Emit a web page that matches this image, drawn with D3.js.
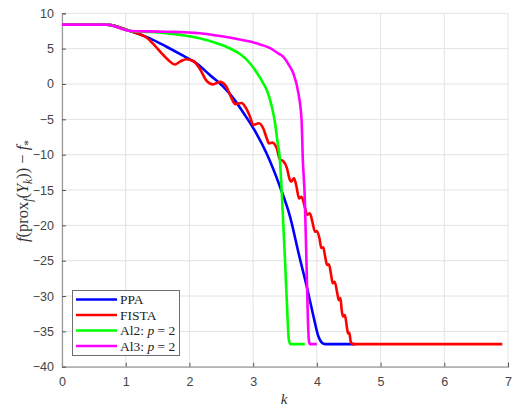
<!DOCTYPE html>
<html>
<head>
<meta charset="utf-8">
<script src="https://cdn.jsdelivr.net/npm/d3@7"></script>
<style>
  html, body { margin: 0; padding: 0; background: #fff; }
  svg { display: block; }
  .tick text { font-family: "Liberation Sans", Arial, sans-serif; font-size: 12.5px; fill: #444; }
</style>
</head>
<body>
<svg id="chart" width="517" height="407"></svg>
<script>
// Objective gap f(prox_f(Y_k)) - f_* versus k for the four methods.
const ppaK   = [0, 0.699, 1.07, 1.38, 1.64, 1.90, 2.11, 2.32, 2.53, 2.69, 2.90, 3.05, 3.21, 3.42, 3.58, 3.72, 3.85, 3.95, 4.02, 4.08, 4.13, 4.60];
const ppaF   = [8.4, 8.4, 7.5, 6.46, 5.27, 4.0, 2.93, 1.27, -0.38, -2.03, -4.8, -6.98, -9.8, -14.5, -18.8, -24.2, -29.0, -33.0, -35.6, -36.6, -36.8, -36.8];

const fistaK = [0, 0.699, 1.07, 1.2, 1.33, 1.45, 1.59, 1.68, 1.77, 1.86, 1.95, 2.06, 2.16, 2.27, 2.37, 2.48, 2.58, 2.66, 2.72, 2.82, 2.88, 2.95, 3.0, 3.09, 3.16, 3.21, 3.25, 3.30, 3.37, 3.42, 3.47, 3.53, 3.57, 3.60, 3.64, 3.68, 3.72, 3.76, 3.81, 3.85, 3.89, 3.93, 3.97, 4.0, 4.04, 4.07, 4.10, 4.13, 4.16, 4.19, 4.22, 4.25, 4.28, 4.32, 4.345, 4.37, 4.39, 4.41, 4.44, 4.47, 4.49, 4.51, 4.53, 4.56, 6.91];
const fistaF = [8.4, 8.4, 7.5, 7.1, 6.55, 5.5, 4.1, 3.3, 2.75, 3.2, 3.5, 3.25, 2.2, 0.45, -0.05, 0.3, -0.4, -2.0, -2.85, -2.7, -3.3, -4.6, -5.8, -5.55, -6.3, -7.6, -8.4, -8.3, -9.1, -10.7, -10.9, -11.9, -13.4, -13.8, -13.3, -14.5, -16.2, -15.95, -17.4, -18.5, -18.3, -19.5, -20.9, -20.8, -21.8, -23.2, -23.1, -24.4, -25.6, -25.5, -26.8, -28.2, -28.0, -29.6, -30.6, -30.3, -32.0, -32.9, -32.7, -34.3, -35.3, -35.2, -36.4, -36.8, -36.8];

const al2K   = [0, 0.699, 1.07, 1.4, 1.64, 1.9, 2.16, 2.43, 2.63, 2.8, 2.95, 3.05, 3.16, 3.22, 3.29, 3.34, 3.38, 3.42, 3.45, 3.50, 3.53, 3.56, 3.585, 3.81];
const al2F   = [8.4, 8.4, 7.5, 7.35, 7.17, 6.9, 6.46, 5.75, 5.05, 4.2, 2.93, 1.7, 0.1, -1.0, -3.1, -5.3, -8.0, -10.75, -15.5, -24.9, -31.0, -36.2, -36.8, -36.8];

const al3K   = [0, 0.699, 1.07, 1.64, 2.16, 2.69, 2.95, 3.05, 3.26, 3.40, 3.47, 3.56, 3.63, 3.71, 3.76, 3.78, 3.81, 3.835, 3.86, 3.875, 3.89, 4.0];
const al3F   = [8.4, 8.4, 7.5, 7.4, 7.17, 6.46, 6.0, 5.75, 5.1, 4.3, 3.86, 2.7, 1.51, -1.3, -5.1, -10.75, -16.0, -24.5, -33.5, -36.3, -36.8, -36.8];

const seriesNames  = ["PPA", "FISTA", "Al2", "Al3"];
const seriesColors = ["#0000ff", "#ff0000", "#00ff00", "#ff00ff"];

const xTicks = [0, 1, 2, 3, 4, 5, 6, 7];
const yTicks = [10, 5, 0, -5, -10, -15, -20, -25, -30, -35, -40];

const svg = d3.select("#chart");
const plotLeft = 62, plotRight = 508, plotTop = 13.3, plotBottom = 366.7;

const x = d3.scaleLinear().domain([0, 7]).range([plotLeft, plotRight]);
const y = d3.scaleLinear().domain([-40, 10]).range([plotBottom, plotTop]);

// grid
const grid = svg.append("g");
grid.selectAll("line.gx").data(xTicks).join("line")
  .attr("x1", d => x(d)).attr("x2", d => x(d))
  .attr("y1", plotTop).attr("y2", plotBottom)
  .attr("stroke", "#e3e3e3").attr("stroke-width", 1);
grid.selectAll("line.gy").data(yTicks).join("line")
  .attr("x1", plotLeft).attr("x2", plotRight)
  .attr("y1", d => y(d)).attr("y2", d => y(d))
  .attr("stroke", "#e3e3e3").attr("stroke-width", 1);

// axes
const xAxis = d3.axisBottom(x).tickValues(xTicks).tickSize(-4).tickPadding(10).tickFormat(d3.format("d"));
const yAxis = d3.axisLeft(y).tickValues(yTicks).tickSize(-4).tickPadding(8).tickFormat(d3.format("d"));

const gx = svg.append("g").attr("transform", `translate(0,${plotBottom})`).call(xAxis);
const gy = svg.append("g").attr("transform", `translate(${plotLeft},0)`).call(yAxis);
[gx, gy].forEach(g => {
  g.select(".domain").attr("stroke", "#9a9a9a").attr("stroke-width", 1.2);
  g.selectAll(".tick line").attr("stroke", "#555");
});

// series
const line = d3.line().x(d => x(d[0])).y(d => y(d[1])).curve(d3.curveMonotoneX);
const series = [
  d3.zip(ppaK, ppaF),
  d3.zip(fistaK, fistaF),
  d3.zip(al2K, al2F),
  d3.zip(al3K, al3F)
];
series.forEach((pts, i) => {
  svg.append("path").datum(pts)
    .attr("d", line)
    .attr("fill", "none")
    .attr("stroke", seriesColors[i])
    .attr("stroke-width", 2.6)
    .attr("stroke-linejoin", "round")
    .attr("stroke-linecap", "butt");
});

// legend
const serif = "'Liberation Serif', 'Times New Roman', serif";
const lg = svg.append("g");
lg.append("rect").attr("x", 72.5).attr("y", 290.5).attr("width", 107).attr("height", 65)
  .attr("fill", "#fff").attr("stroke", "#6e6e6e").attr("stroke-width", 1);
const rowY = [299.5, 315, 330.5, 346];
rowY.forEach((ry, i) => {
  lg.append("line").attr("x1", 76).attr("x2", 117).attr("y1", ry).attr("y2", ry)
    .attr("stroke", seriesColors[i]).attr("stroke-width", 2.6);
  const t = lg.append("text").attr("x", 120).attr("y", ry + 4.5)
    .attr("font-family", serif).attr("font-size", 13.5).attr("fill", "#222");
  if (i < 2) {
    t.text(seriesNames[i]);
  } else {
    t.append("tspan").text(seriesNames[i] + ": ");
    t.append("tspan").attr("font-style", "italic").text("p");
    t.append("tspan").text(" = 2");
  }
});

// axis labels
svg.append("text").attr("x", 284).attr("y", 404)
  .attr("text-anchor", "middle").attr("font-family", serif)
  .attr("font-style", "italic").attr("font-size", 15).attr("fill", "#333").text("k");

const yl = svg.append("text")
  .attr("transform", "translate(28,191) rotate(-90)")
  .attr("text-anchor", "middle").attr("font-family", serif)
  .attr("font-size", 16.5).attr("fill", "#333");
yl.append("tspan").attr("font-style", "italic").text("f");
yl.append("tspan").text("(prox");
yl.append("tspan").attr("font-style", "italic").attr("font-size", 11.5).attr("dy", 3.5).text("f");
yl.append("tspan").attr("dy", -3.5).text("(");
yl.append("tspan").attr("font-style", "italic").text("Y");
yl.append("tspan").attr("font-style", "italic").attr("font-size", 11.5).attr("dy", 3.5).text("k");
yl.append("tspan").attr("dy", -3.5).text(")) − ");
yl.append("tspan").attr("font-style", "italic").text("f");
yl.append("tspan").attr("font-size", 11.5).attr("dy", 3.5).text("*");
</script>
</body>
</html>
